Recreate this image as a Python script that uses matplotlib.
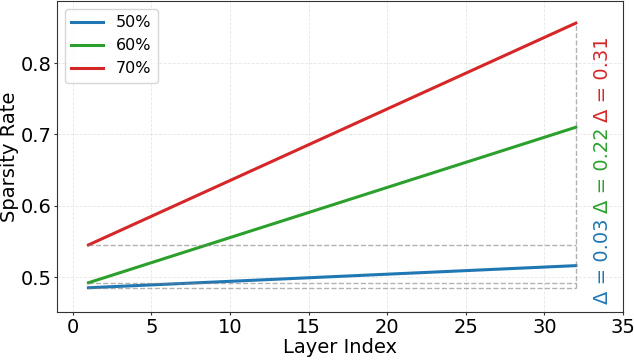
import matplotlib
matplotlib.use("Agg")
import matplotlib.pyplot as plt

layers = [1, 32]
labels = ["50%", "60%", "70%"]
colors = ["#1f77b4", "#2ca02c", "#d62728"]
values = {
    "50%": [0.485, 0.516],
    "60%": [0.492, 0.710],
    "70%": [0.545, 0.856],
}
deltas = ["Δ = 0.03", "Δ = 0.22", "Δ = 0.31"]
delta_y = [0.522, 0.650, 0.778]

fig = plt.figure(figsize=(6.34, 3.6), dpi=100)
ax = fig.add_axes([57/634, 48/360, 566/634, 311/360])

for lab, c in zip(labels, colors):
    ax.plot(layers, values[lab], color=c, lw=2.2, label=lab)

starts = [values[l][0] for l in labels]
ends = [values[l][-1] for l in labels]
for s in starts:
    ax.plot([layers[0], layers[-1]], [s, s], ls="--", color="gray", alpha=0.6, lw=1)
ax.plot([layers[-1], layers[-1]], [min(starts), max(ends)], ls="--", color="gray", alpha=0.6, lw=1)

for t, y, c in zip(deltas, delta_y, colors):
    ax.text(33.7, y, t, rotation=90, color=c, fontsize=14, ha="center", va="center")

ax.set_xlim(-1, 35)
ax.set_ylim(0.451, 0.887)
ax.set_xticks([0, 5, 10, 15, 20, 25, 30, 35])
ax.set_yticks([0.5, 0.6, 0.7, 0.8])
ax.tick_params(labelsize=14, length=2.5, pad=1.5, color="#333333")
ax.set_xlabel("Layer Index", fontsize=14, labelpad=1)
ax.set_ylabel("Sparsity Rate", fontsize=14, labelpad=1)
ax.grid(True, ls="--", alpha=0.3, lw=0.6)
for sp in ax.spines.values():
    sp.set_color("#333333")
ax.legend(loc="upper left", fontsize=11.5)

fig.savefig("out.png", dpi=100)
